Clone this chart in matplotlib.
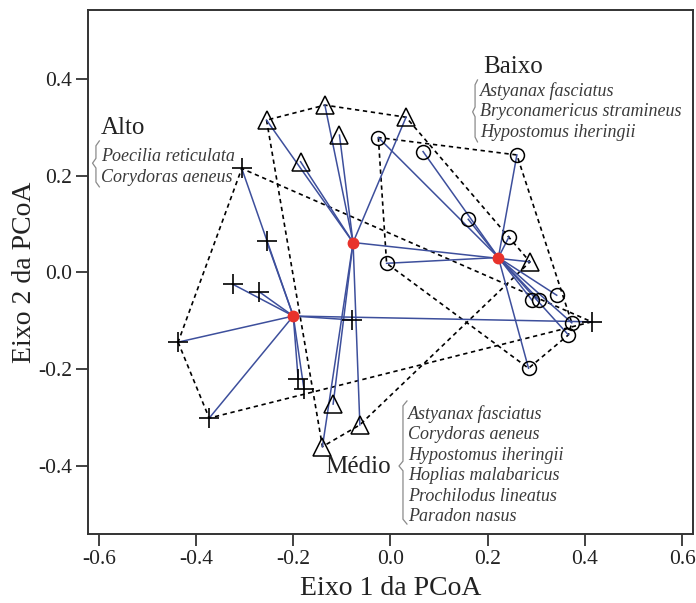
import numpy as np
import matplotlib
matplotlib.use('Agg')
import matplotlib.pyplot as plt

# PCoA scores by stretch (eixo 1, eixo 2)
# ---------------------------------------
alto_x = [-0.306, -0.255, -0.325, -0.270, -0.437, -0.373, -0.190, -0.178, -0.080, 0.414]
alto_y = [0.215, 0.065, -0.024, -0.040, -0.144, -0.301, -0.220, -0.241, -0.098, -0.102]

medio_x = [-0.255, -0.135, -0.105, -0.185, 0.032, 0.287, -0.118, -0.063, -0.140]
medio_y = [0.315, 0.346, 0.284, 0.229, 0.321, 0.022, -0.272, -0.315, -0.360]

baixo_x = [-0.025, 0.067, 0.260, 0.160, 0.244, -0.008, 0.342, 0.291, 0.306, 0.373, 0.366, 0.284]
baixo_y = [0.279, 0.250, 0.243, 0.110, 0.074, 0.019, -0.047, -0.057, -0.057, -0.104, -0.129, -0.198]

# group centroids
cent_x = [-0.200, -0.077, 0.222]
cent_y = [-0.090, 0.062, 0.031]

# indicator species per stretch
alto_spp = ['Poecilia reticulata', 'Corydoras aeneus']
baixo_spp = ['Astyanax fasciatus', 'Bryconamericus stramineus', 'Hypostomus iheringii']
medio_spp = ['Astyanax fasciatus', 'Corydoras aeneus', 'Hypostomus iheringii',
             'Hoplias malabaricus', 'Prochilodus lineatus', 'Paradon nasus']

xticks = [-0.6, -0.4, -0.2, 0.0, 0.2, 0.4, 0.6]
yticks = [-0.4, -0.2, 0.0, 0.2, 0.4]


def convex_hull(xs, ys):
    pts = sorted(zip(xs, ys))

    def cross(o, a, b):
        return (a[0] - o[0]) * (b[1] - o[1]) - (a[1] - o[1]) * (b[0] - o[0])

    lower, upper = [], []
    for p in pts:
        while len(lower) >= 2 and cross(lower[-2], lower[-1], p) <= 0:
            lower.pop()
        lower.append(p)
    for p in reversed(pts):
        while len(upper) >= 2 and cross(upper[-2], upper[-1], p) <= 0:
            upper.pop()
        upper.append(p)
    hull = lower[:-1] + upper[:-1]
    hull.append(hull[0])
    return np.array(hull)


def brace(ax, x, ytop, ybot, ymid, xtip):
    w = x - xtip
    d = 0.010
    bx = [x + w, x, x, xtip, x, x, x + w]
    by = [ytop, ytop - d, ymid + d, ymid, ymid - d, ybot + d, ybot]
    ax.plot(bx, by, color='#8a8a8a', lw=0.9, zorder=2)


def species(ax, x, y0, names, step=0.0425):
    for i, name in enumerate(names):
        ax.text(x, y0 - i * step, name, fontsize=13, style='italic',
                color='#3a3a3a', va='baseline', ha='left', zorder=5)


plt.rcParams['font.family'] = ['Liberation Serif', 'DejaVu Serif']
plt.rcParams['axes.unicode_minus'] = False

fig = plt.figure(figsize=(6.96, 6.03), dpi=100)
ax = fig.add_axes([0.1264, 0.1144, 0.8693, 0.8690])

groups = [(alto_x, alto_y, '+', 15, 0), (medio_x, medio_y, '^', 13, 1), (baixo_x, baixo_y, 'o', 10, 2)]
blue = '#3d4f9c'

for gx, gy, mk, ms, k in groups:
    # dashed envelope --
    hull = convex_hull(gx, gy)
    ax.plot(hull[:, 0], hull[:, 1], color='black', lw=1.2, ls=(0, (2.6, 2.2)), zorder=1)
    # spokes to centroid --
    for px, py in zip(gx, gy):
        ax.plot([cent_x[k], px], [cent_y[k], py], color=blue, lw=1.1, zorder=2)
    # samples --
    if mk == '+':
        ax.plot(gx, gy, ls='none', marker='+', ms=ms, mew=1.2, color='black', zorder=3)
    else:
        ax.plot(gx, gy, ls='none', marker=mk, ms=ms, mew=1.1, mfc='none', mec='black', zorder=3)

ax.plot(cent_x, cent_y, ls='none', marker='o', ms=7.5, color='#e8322b', zorder=4)

# labels and species lists --
ax.text(-0.596, 0.286, 'Alto', fontsize=18, color='#222222', va='baseline')
species(ax, -0.596, 0.2305, alto_spp)
brace(ax, -0.606, 0.272, 0.177, 0.226, -0.613)

ax.text(0.190, 0.412, 'Baixo', fontsize=18, color='#222222', va='baseline')
species(ax, 0.184, 0.365, baixo_spp)
brace(ax, 0.174, 0.398, 0.270, 0.332, 0.169)

ax.text(-0.135, -0.415, 'Médio', fontsize=18, color='#222222', va='baseline')
species(ax, 0.036, -0.3028, medio_spp, step=0.0422)
brace(ax, 0.0257, -0.2656, -0.520, -0.400, 0.0175)

# axes --
ax.set_xlim(-0.6224, 0.6224)
ax.set_ylim(-0.5406, 0.5426)
ax.set_xticks(xticks)
ax.set_yticks(yticks)
ax.set_xticklabels(['%.1f' % t for t in xticks])
ax.set_yticklabels(['%.1f' % t for t in yticks])
ax.tick_params(direction='out', length=8.5, width=1.3, labelsize=15.5, pad=3,
               colors='#333333', labelcolor='#222222')
for sp in ax.spines.values():
    sp.set_linewidth(1.4)
    sp.set_color('#333333')

ax.set_xlabel('Eixo 1 da PCoA', fontsize=20, color='#222222', labelpad=5)
ax.set_ylabel('Eixo 2 da PCoA', fontsize=20, color='#222222', labelpad=1)

fig.savefig('out.png', dpi=100)
